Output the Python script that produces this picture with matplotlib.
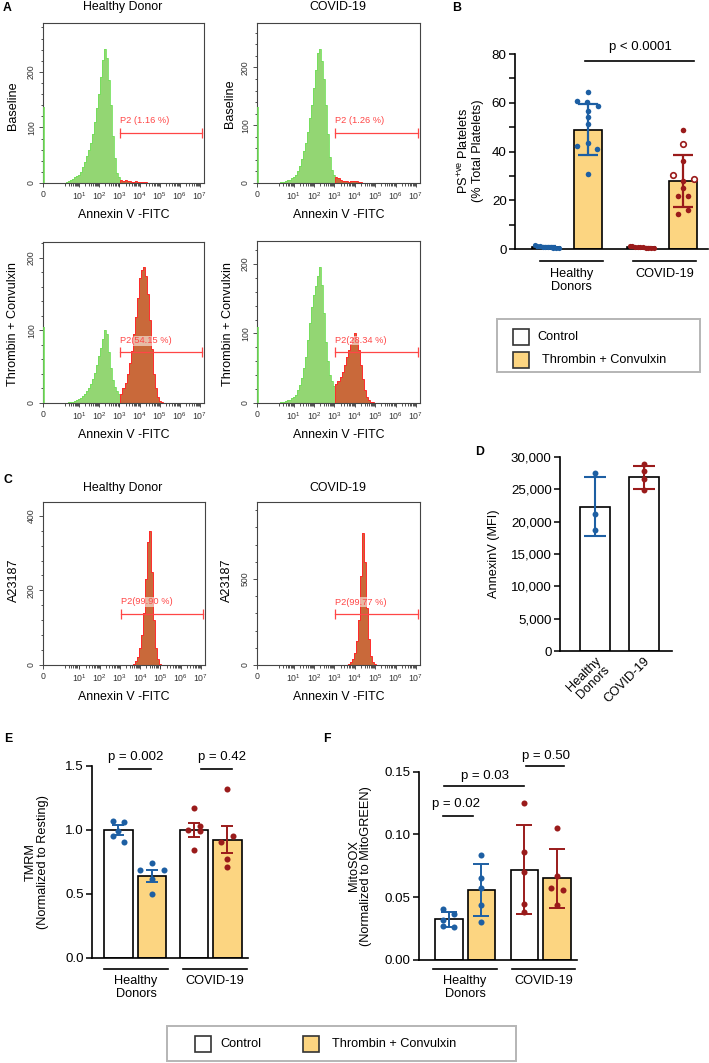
import numpy as np
import matplotlib
matplotlib.use('Agg')
import matplotlib.pyplot as plt
from matplotlib.patches import Rectangle
from matplotlib.ticker import MultipleLocator, FixedLocator, FuncFormatter

plt.rcParams['font.family'] = ['Liberation Sans', 'DejaVu Sans']
plt.rcParams['mathtext.fontset'] = 'custom'
plt.rcParams['mathtext.rm'] = 'Liberation Sans'
plt.rcParams['mathtext.it'] = 'Liberation Sans:italic'
plt.rcParams['mathtext.bf'] = 'Liberation Sans:bold'

# ---------------------------------------------------------------- data
# flow-cytometry histograms: counts per 0.1-decade bin (bin edges 10^0.35 ... 10^5.35)
hist_counts_hd_baseline = [2, 4, 6, 8, 10, 12, 15, 20, 28, 38,
                           48, 60, 72, 88, 110, 135, 160, 190, 222, 242,
                           225, 185, 140, 85, 45, 18, 10, 6, 4, 5,
                           4, 3, 2, 2, 3, 2, 2, 2, 1, 1,
                           0, 0, 0, 0, 0, 0, 0, 0, 0, 0]
hist_counts_covid_baseline = [2, 2, 3, 5, 6, 8, 10, 14, 20, 30,
                              42, 55, 70, 88, 112, 135, 165, 195, 225, 232,
                              212, 180, 135, 85, 45, 22, 14, 10, 8, 6,
                              4, 3, 3, 2, 3, 3, 4, 3, 2, 1,
                              0, 0, 0, 0, 0, 0, 0, 0, 0, 0]
hist_counts_hd_thrombin = [0, 1, 2, 2, 3, 4, 5, 7, 10, 13,
                           17, 21, 26, 33, 42, 52, 65, 76, 88, 101,
                           95, 70, 48, 32, 22, 16, 12, 12, 20, 28,
                           40, 55, 72, 95, 118, 145, 172, 183, 188, 175,
                           150, 115, 75, 40, 20, 8, 3, 1, 0, 0]
hist_counts_covid_thrombin = [1, 2, 3, 4, 5, 7, 9, 12, 18, 26,
                              36, 50, 66, 90, 115, 138, 155, 168, 182, 195,
                              170, 130, 88, 60, 40, 32, 25, 28, 32, 37,
                              44, 55, 66, 76, 85, 93, 100, 90, 76, 55,
                              35, 18, 9, 4, 2, 1, 0, 0, 0, 0]
hist_counts_hd_a23187 = [0, 0, 0, 0, 0, 0, 0, 0, 0, 0,
                         0, 0, 0, 0, 0, 0, 0, 0, 0, 0,
                         0, 0, 0, 0, 0, 0, 0, 0, 0, 0,
                         0, 0, 1, 4, 10, 22, 45, 80, 140, 230,
                         330, 360, 250, 120, 45, 15, 4, 1, 0, 0]
hist_counts_covid_a23187 = [0, 0, 0, 0, 0, 0, 0, 0, 0, 0,
                            0, 0, 0, 0, 0, 0, 0, 0, 0, 0,
                            0, 0, 0, 0, 0, 0, 0, 0, 0, 0,
                            0, 0, 2, 6, 15, 35, 70, 140, 260, 520,
                            770, 600, 330, 150, 55, 18, 5, 1, 0, 0]
hist_edge_spike = [137, 132, 105, 110, 0, 0]     # events piled at the axis origin
gate_labels = ['P2 (1.16 %)', 'P2 (1.26 %)', 'P2(54.15 %)', 'P2(28.34 %)',
               'P2(99.90 %)', 'P2(99.77 %)']
hist_xtick_labels = ['0', r'$10^{1}$', r'$10^{2}$', r'$10^{3}$', r'$10^{4}$',
                     r'$10^{5}$', r'$10^{6}$', r'$10^{7}$']

# panel B
b_groups = ['Healthy\nDonors', 'COVID-19']
b_means = [0.8, 49.0, 0.7, 28.0]
b_sd = [0.4, 10.6, 0.3, 10.6]
b_hd_ctrl = [1.6, 1.4, 1.2, 1.0, 0.9, 0.8, 0.7, 0.6, 0.5, 0.4]
b_hd_tc = [64.3, 60.7, 60.4, 58.5, 56.6, 54.2, 51.4, 43.5, 42.1, 41.2, 30.9]
b_cov_ctrl = [1.3, 1.1, 1.0, 0.9, 0.8, 0.7, 0.6, 0.5, 0.5, 0.4]
b_cov_tc_filled = [48.7, 36.0, 28.0, 25.0, 21.6, 21.6, 15.9, 14.4]
b_cov_tc_open = [43.1, 30.5, 28.7]

# panel D
d_groups = ['Healthy\nDonors', 'COVID-19']
d_means = [22300, 26850]
d_sd = [4570, 1730]
d_hd_points = [27500, 21200, 18680]
d_cov_points = [28950, 27760, 26580, 24920]

# panel E (mean +/- SEM)
e_groups = ['Healthy\nDonors', 'COVID-19']
e_means = [1.0, 0.64, 1.0, 0.925]
e_sem = [0.04, 0.045, 0.052, 0.105]
e_hd_ctrl = [1.07, 1.06, 0.99, 0.95, 0.91]
e_hd_tc = [0.745, 0.69, 0.69, 0.615, 0.50]
e_cov_ctrl = [1.17, 1.00, 1.03, 0.99, 0.84]
e_cov_tc = [1.32, 0.95, 0.91, 0.77, 0.71]
e_pvalues = ['p = 0.002', 'p = 0.42']

# panel F (mean +/- SD)
f_groups = ['Healthy\nDonors', 'COVID-19']
f_means = [0.0323, 0.0556, 0.072, 0.065]
f_sd = [0.0063, 0.0207, 0.0352, 0.0236]
f_hd_ctrl = [0.041, 0.037, 0.032, 0.027, 0.026]
f_hd_tc = [0.084, 0.0653, 0.0577, 0.0437, 0.030]
f_cov_ctrl = [0.1254, 0.0857, 0.0698, 0.0444, 0.0384]
f_cov_tc = [0.105, 0.0667, 0.0577, 0.0556, 0.0437]
f_pvalues = ['p = 0.02', 'p = 0.03', 'p = 0.50']

legend_labels = ['Control', 'Thrombin + Convulxin']

# ---------------------------------------------------------------- style
BLUE = '#1d5fa3'
RED = '#9a1b1b'
YELLOW = '#fcd581'
GREEN_FILL = '#93d673'
GREEN_EDGE = '#72e05a'
BROWN = '#c9693a'
RED_LINE = '#ff2a2a'
GATE_RED = '#ff4646'

TICK_FS = 9.6
LABEL_FS = 9.2

W, H = 709, 1063
fig = plt.figure(figsize=(W / 100, H / 100), dpi=100)


def add_ax(x0, y0, x1, y1):
    return fig.add_axes([x0 / W, 1 - y1 / H, (x1 - x0) / W, (y1 - y0) / H])


def ftext(x, y, s, **kw):
    return fig.text(x / W, 1 - y / H, s, **kw)


# ---------------------------------------------------------------- histograms
HIST_XLIM = (-0.8, 7.2)
GATE = (3.05, 7.1)
edges = np.round(0.35 + 0.1 * np.arange(len(hist_counts_hd_baseline) + 1), 2)
gi = int(np.argmin(np.abs(edges - GATE[0])))


def hist_panel(ax, counts, ymax, ymaj, ymin, spike, glabel, gate_y, text_y, boxed):
    c = np.asarray(counts, float)
    nz = np.nonzero(c)[0]
    first, last = int(nz.min()), int(nz.max()) + 1
    if gi > first:
        ax.stairs(c[first:gi], edges[first:gi + 1], fill=True, color=GREEN_FILL, lw=0, zorder=2)
        ax.stairs(c[first:gi], edges[first:gi + 1], color=GREEN_EDGE, lw=0.6, zorder=3)
    s = max(gi, first)
    ax.stairs(c[s:last], edges[s:last + 1], fill=True, color=BROWN, lw=0, zorder=2)
    ax.stairs(c[s:last], edges[s:last + 1], color=RED_LINE, lw=0.7, zorder=3)
    if spike:
        ax.vlines(HIST_XLIM[0] + 0.03, 0, spike, color=GREEN_EDGE, lw=1.2, zorder=3)
    ax.plot(list(GATE), [gate_y, gate_y], color=GATE_RED, lw=0.9, marker='|', ms=7, mew=0.9,
            zorder=5)
    kw = dict(color=GATE_RED, fontsize=6.7, ha='left', va='center', zorder=4)
    if boxed:
        kw['bbox'] = dict(facecolor='white', alpha=0.55, edgecolor='none', pad=0.3)
    ax.text(GATE[0] - 0.02, text_y, glabel, **kw)
    ax.set_xlim(*HIST_XLIM)
    ax.set_ylim(0, ymax)
    ax.set_xticks([HIST_XLIM[0], 1, 2, 3, 4, 5, 6, 7])
    ax.set_xticklabels(hist_xtick_labels)
    ax.xaxis.set_minor_locator(FixedLocator(
        [d + np.log10(k) for d in range(0, 7) for k in range(2, 10)]))
    ax.yaxis.set_major_locator(MultipleLocator(ymaj))
    ax.yaxis.set_minor_locator(MultipleLocator(ymin))
    ax.tick_params(axis='both', which='both', direction='out', labelsize=6.3,
                   width=0.6, colors='#333333', pad=2)
    ax.tick_params(which='major', length=3)
    ax.tick_params(which='minor', length=1.8)
    ax.tick_params(axis='y', labelrotation=90)
    for lab in ax.get_yticklabels():
        lab.set_va('center')
    for sp in ax.spines.values():
        sp.set_color('#444444')
        sp.set_linewidth(0.8)


hist_specs = [
    # counts, box(px), ymax, ymaj, ymin, gate_y, text_y, boxed
    (hist_counts_hd_baseline, (43, 23, 204, 183), 288, 100, 20, 90, 113, False),
    (hist_counts_covid_baseline, (257, 23, 420, 183), 277, 100, 20, 87, 109, False),
    (hist_counts_hd_thrombin, (43, 242, 204, 403), 222, 100, 20, 70, 86, True),
    (hist_counts_covid_thrombin, (257, 241, 420, 403), 233, 100, 20, 73, 90, True),
    (hist_counts_hd_a23187, (43, 502, 205, 665), 437, 200, 40, 137, 169, True),
    (hist_counts_covid_a23187, (257, 502, 420, 665), 948, 500, 100, 296, 366, True),
]
for i, (cnt, box, ymax, ymaj, ymin, gy, ty, boxed) in enumerate(hist_specs):
    ax = add_ax(*box)
    hist_panel(ax, cnt, ymax, ymaj, ymin, hist_edge_spike[i], gate_labels[i], gy, ty, boxed)
    ftext((box[0] + box[2]) / 2, box[3] + 32, 'Annexin V -FITC', fontsize=8.9,
          ha='center', va='center')

for x, y in [(123, 7), (123, 488)]:
    ftext(x, y, 'Healthy Donor', fontsize=8.9, ha='center', va='center')
for x, y in [(338, 7), (338, 488)]:
    ftext(x, y, 'COVID-19', fontsize=8.9, ha='center', va='center')
for x, y, s in [(13, 106, 'Baseline'), (230, 104, 'Baseline'),
                (13, 324, 'Thrombin + Convulxin'), (228, 324, 'Thrombin + Convulxin'),
                (14, 580, 'A23187'), (227, 580, 'A23187')]:
    ftext(x, y, s, fontsize=9.1, rotation=90, ha='center', va='center')


# ---------------------------------------------------------------- bar panel helpers
def style_bar_axes(ax):
    for sp in ['top', 'right']:
        ax.spines[sp].set_visible(False)
    for sp in ['left', 'bottom']:
        ax.spines[sp].set_linewidth(1.2)
        ax.spines[sp].set_color('black')
    ax.tick_params(axis='y', which='both', direction='out', length=4, width=1.1,
                   labelsize=TICK_FS, pad=2)
    ax.tick_params(axis='x', length=0)
    ax.set_xticks([])


def group_lines(ax, spans, labels, yfrac, label_frac):
    trans = ax.get_xaxis_transform()
    for (a, b), lab in zip(spans, labels):
        ax.plot([a, b], [yfrac, yfrac], color='black', lw=1.2, transform=trans, clip_on=False)
        ax.text((a + b) / 2, label_frac, lab, transform=trans, ha='center', va='top',
                fontsize=LABEL_FS, linespacing=1.1)


def sig(ax, x0, x1, y, ty, tx, s):
    ax.plot([x0, x1], [y, y], color='black', lw=1.2, clip_on=False)
    ax.text(tx, ty, s, ha='center', va='center', fontsize=9.5, clip_on=False)


bar_fills = ['white', YELLOW, 'white', YELLOW]
pt_colors = [BLUE, BLUE, RED, RED]

# ---------------------------------------------------------------- panel B
axB = add_ax(515, 54, 708, 249)
posB = np.array([0, 1, 2.262, 3.262])
axB.bar(posB, b_means, width=0.69, color=bar_fills, edgecolor='black', lw=1.2, zorder=2)
for p, m, s, c in zip(posB, b_means, b_sd, pt_colors):
    axB.errorbar(p, m, yerr=s, color=c, capsize=7, elinewidth=1.6, capthick=1.6, zorder=3)
jit_ctrl = np.linspace(-0.27, 0.3, 10)
axB.scatter(posB[0] + jit_ctrl, b_hd_ctrl, s=14, color=BLUE, zorder=4, clip_on=False, lw=0)
axB.scatter(posB[2] + jit_ctrl, b_cov_ctrl, s=14, color=RED, zorder=4, clip_on=False, lw=0)
jit_hd_tc = [0, -0.25, -0.03, 0.24, 0, 0, 0, 0, -0.25, 0.22, 0]
axB.scatter(posB[1] + np.array(jit_hd_tc), b_hd_tc, s=16, color=BLUE, zorder=4, lw=0)
jit_cov_f = [0, 0, 0, 0, -0.13, 0.12, 0.12, -0.13]
axB.scatter(posB[3] + np.array(jit_cov_f), b_cov_tc_filled, s=16, color=RED, zorder=4, lw=0)
jit_cov_o = [0, -0.25, 0.25]
axB.scatter(posB[3] + np.array(jit_cov_o), b_cov_tc_open, s=16, facecolor='white',
            edgecolor=RED, lw=1.2, zorder=4)
axB.set_xlim(-0.738, 3.857)
axB.set_ylim(0, 80)
axB.yaxis.set_major_locator(MultipleLocator(20))
axB.yaxis.set_minor_locator(MultipleLocator(10))
style_bar_axes(axB)
sig(axB, 0.93, 3.52, 77.1, 82.9, 2.24, 'p < 0.0001')
group_lines(axB, [(-0.14, 1.36), (2.07, 3.57)], b_groups, -12 / 195, -19 / 195)
ftext(470, 151, r'PS$^{\mathrm{+ve}}$ Platelets' + '\n(% Total Platelets)', fontsize=LABEL_FS,
      rotation=90, ha='center', va='center', multialignment='center', linespacing=1.1)

# legend B
fig.add_artist(Rectangle((497 / W, 1 - 372 / H), 203 / W, 53 / H, transform=fig.transFigure,
                         facecolor='white', edgecolor='#b5b5b5', lw=1.4))
for (sx, sy), fc, (tx, lab) in zip([(513, 337), (513, 360)], ['white', YELLOW],
                                   [(537, legend_labels[0]), (542, legend_labels[1])]):
    fig.add_artist(Rectangle((sx / W, 1 - (sy + 8) / H), 16 / W, 16 / H,
                             transform=fig.transFigure, facecolor=fc,
                             edgecolor='#333333', lw=1.2))
    ftext(tx, sy, lab, fontsize=9.2, ha='left', va='center')

# ---------------------------------------------------------------- panel D
axD = add_ax(560, 457, 672, 651)
posD = np.array([0, 1])
axD.bar(posD, d_means, width=0.63, color='white', edgecolor='black', lw=1.2, zorder=2)
for p, m, s, c, pts in zip(posD, d_means, d_sd, [BLUE, RED], [d_hd_points, d_cov_points]):
    axD.errorbar(p, m, yerr=s, color=c, capsize=8, elinewidth=1.5, capthick=1.5, zorder=3)
    axD.scatter(np.full(len(pts), p), pts, s=18, color=c, zorder=4, lw=0)
axD.set_xlim(-0.714, 1.571)
axD.set_ylim(0, 30000)
axD.yaxis.set_major_locator(MultipleLocator(5000))
axD.yaxis.set_major_formatter(FuncFormatter(lambda v, _: f'{int(v):,}'))
style_bar_axes(axD)
axD.set_xticks(posD)
axD.set_xticklabels(d_groups, rotation=45, ha='right', va='top', rotation_mode='anchor',
                    fontsize=LABEL_FS, linespacing=1.05)
axD.tick_params(axis='x', length=0, pad=3)
ftext(494, 554, 'AnnexinV (MFI)', fontsize=LABEL_FS, rotation=90, ha='center', va='center')


# ---------------------------------------------------------------- panels E / F
def dot_bar_panel(ax, pos, means, errs, width, capsize):
    ax.bar(pos, means, width=width, color=bar_fills, edgecolor='black', lw=1.2, zorder=2)
    for p, m, e, c in zip(pos, means, errs, pt_colors):
        ax.errorbar(p, m, yerr=e, color=c, capsize=capsize, elinewidth=1.4, capthick=1.4,
                    zorder=3)


axE = add_ax(92, 766, 248, 958)
posE = np.array([0, 1, 2.25, 3.25])
dot_bar_panel(axE, posE, e_means, e_sem, 0.85, 4.5)
for p, vals, jit, c in [(posE[0], e_hd_ctrl, [-0.17, 0.17, 0, -0.17, 0.17], BLUE),
                        (posE[1], e_hd_tc, [0, -0.35, 0.35, 0, 0], BLUE),
                        (posE[2], e_cov_ctrl, [0, -0.17, 0.17, 0.17, 0], RED),
                        (posE[3], e_cov_tc, [0, 0.17, -0.18, 0, 0], RED)]:
    axE.scatter(p + np.array(jit), vals, s=19, color=c, zorder=4, lw=0)
axE.set_xlim(-0.79, 3.866)
axE.set_ylim(0, 1.5)
axE.yaxis.set_major_locator(MultipleLocator(0.5))
axE.yaxis.set_major_formatter(FuncFormatter(lambda v, _: f'{v:.1f}'))
style_bar_axes(axE)
sig(axE, 0.015, 0.97, 1.477, 1.57, 0.5, e_pvalues[0])
sig(axE, 2.46, 3.39, 1.477, 1.57, 3.09, e_pvalues[1])
group_lines(axE, [(-0.43, 1.48), (1.93, 3.84)], e_groups, -11 / 192, -17 / 192)
ftext(37, 862, 'TMRM\n(Normalized to Resting)', fontsize=LABEL_FS, rotation=90, ha='center',
      va='center', multialignment='center', linespacing=1.1)

axF = add_ax(419, 771.7, 577, 960)
posF = np.array([0, 1, 2.32, 3.32])
dot_bar_panel(axF, posF, f_means, f_sd, 0.846, 5.5)
for p, vals, jit, c in [(posF[0], f_hd_ctrl, [-0.17, 0.17, -0.17, -0.17, 0.17], BLUE),
                        (posF[1], f_hd_tc, [0, 0, 0, 0, 0], BLUE),
                        (posF[2], f_cov_ctrl, [0, 0, 0, 0, 0], RED),
                        (posF[3], f_cov_tc, [0, 0, -0.17, 0.18, 0], RED)]:
    axF.scatter(p + np.array(jit), vals, s=19, color=c, zorder=4, lw=0)
axF.set_xlim(-0.92, 3.94)
axF.set_ylim(0, 0.15)
axF.yaxis.set_major_locator(MultipleLocator(0.05))
axF.yaxis.set_major_formatter(FuncFormatter(lambda v, _: f'{v:.2f}'))
style_bar_axes(axF)
sig(axF, -0.18, 0.74, 0.1151, 0.1246, 0.22, f_pvalues[0])
sig(axF, -0.15, 2.31, 0.1387, 0.1468, 1.1, f_pvalues[1])
sig(axF, 2.37, 3.54, 0.1542, 0.1627, 3.0, f_pvalues[2])
group_lines(axF, [(-0.49, 1.48), (1.94, 3.88)], f_groups, -9 / 188.3, -15 / 188.3)
ftext(360, 866, 'MitoSOX\n(Normalized to MitoGREEN)', fontsize=LABEL_FS, rotation=90,
      ha='center', va='center', multialignment='center', linespacing=1.1)

# bottom legend
fig.add_artist(Rectangle((167 / W, 1 - 1061 / H), 349 / W, 35 / H, transform=fig.transFigure,
                         facecolor='white', edgecolor='#b5b5b5', lw=1.4))
for sx, fc, tx, lab in [(195, 'white', 220, legend_labels[0]),
                        (303, YELLOW, 332, legend_labels[1])]:
    fig.add_artist(Rectangle((sx / W, 1 - 1052 / H), 16 / W, 16 / H, transform=fig.transFigure,
                             facecolor=fc, edgecolor='#333333', lw=1.2))
    ftext(tx, 1044, lab, fontsize=9.2, ha='left', va='center')

# panel letters
for x, y, s in [(3, 8, 'A'), (452, 8, 'B'), (4, 480, 'C'), (475, 452, 'D'),
                (4, 739, 'E'), (323, 739, 'F')]:
    ftext(x, y, s, fontsize=8.8, fontweight='bold', ha='left', va='center')

fig.savefig('out.png', dpi=100)
